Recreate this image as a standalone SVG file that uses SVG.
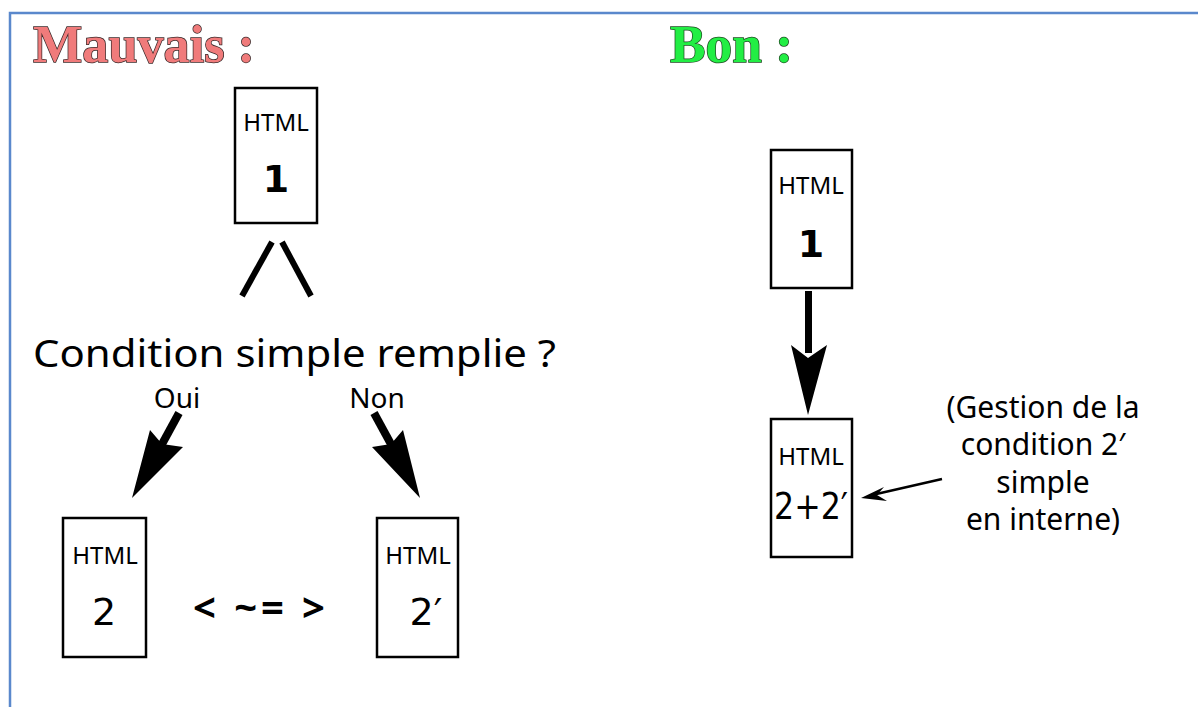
<svg xmlns="http://www.w3.org/2000/svg" width="1198" height="707" viewBox="0 0 1198 707">
<style>
.frame{stroke:#5a88cc;stroke-width:2.5;fill:none}
.box{fill:#fff;stroke:#000;stroke-width:2.5}
.title{font-family:"Liberation Serif",serif;font-weight:bold;font-size:53px;stroke-width:1.5;paint-order:stroke}
.sans{font-family:"Noto Sans","DejaVu Sans",sans-serif;fill:#000}
.lbl{font-size:24px;text-anchor:middle}
.num{font-family:"DejaVu Sans",sans-serif;font-size:38px;text-anchor:middle}
.ah{fill:#000;stroke:none}
</style>
<rect width="1198" height="707" fill="#fff"/>
<path class="frame" d="M10,707 V13 H1198"/>
<text class="title" x="33" y="62" fill="#f07b7b" stroke="#3a2a2a" textLength="222" lengthAdjust="spacingAndGlyphs">Mauvais :</text>
<text class="title" x="670" y="62" fill="#22ee44" stroke="#1f4a22" textLength="123" lengthAdjust="spacingAndGlyphs">Bon :</text>

<g id="html1">
<rect class="box" x="235" y="88" width="82" height="135"/>
<text class="sans lbl" x="276" y="131">HTML</text>
<text class="num" x="276" y="192" font-weight="bold">1</text>
</g>
<g id="condition">
<text class="sans" x="33" y="367" font-size="39px" textLength="523" lengthAdjust="spacingAndGlyphs">Condition simple remplie ?</text>
</g>
<g id="oui"><text class="sans" x="177" y="408" font-size="28px" text-anchor="middle">Oui</text></g>
<g id="non"><text class="sans" x="377" y="408" font-size="28px" text-anchor="middle">Non</text></g>
<g id="html2">
<rect class="box" x="63" y="518" width="83" height="139"/>
<text class="sans lbl" x="105" y="564">HTML</text>
<text class="num" x="104" y="625">2</text>
</g>
<g id="equiv"><text class="sans" x="193" y="622" font-size="40px" font-weight="bold" textLength="132">&lt; ~= &gt;</text></g>
<g id="html2p">
<rect class="box" x="377" y="518" width="81" height="139"/>
<text class="sans lbl" x="418" y="564">HTML</text>
<text class="num" x="426" y="625">2′</text>
</g>

<g id="htmlR1">
<rect class="box" x="771" y="150" width="81" height="138"/>
<text class="sans lbl" x="811" y="194">HTML</text>
<text class="num" x="811" y="257" font-weight="bold">1</text>
</g>
<g id="htmlR2">
<rect class="box" x="771" y="419" width="81" height="138"/>
<text class="sans lbl" x="811" y="465">HTML</text>
<text class="num" x="811" y="519" font-size="34px" textLength="74" lengthAdjust="spacingAndGlyphs">2+2′</text>
</g>
<g id="note" class="sans" font-size="30px" text-anchor="middle">
<text x="1043" y="418">(Gestion de la</text>
<text x="1043" y="455">condition 2′</text>
<text x="1043" y="493">simple</text>
<text x="1043" y="530">en interne)</text>
</g>

<g id="connectors">
<line x1="272" y1="242" x2="242" y2="296" stroke="#000" stroke-width="6"/>
<line x1="282" y1="242" x2="311" y2="296" stroke="#000" stroke-width="6"/>
<line x1="179" y1="413" x2="161" y2="446" stroke="#000" stroke-width="8"/>
<path class="ah" d="M132,498 L150,430 L162,444 L183,447 Z"/>
<line x1="374" y1="413" x2="392" y2="446" stroke="#000" stroke-width="8"/>
<path class="ah" d="M420,498 L372,447 L391,444 L403,430 Z"/>
<rect class="ah" x="805" y="291" width="7" height="62"/>
<path class="ah" d="M808,415 L791,345 L808,358 L827,345 Z"/>
<line x1="942" y1="479" x2="872" y2="495" stroke="#000" stroke-width="2.5"/>
<path class="ah" d="M861,498 L884,487 L877,495 L887,501 Z"/>
</g>
</svg>
